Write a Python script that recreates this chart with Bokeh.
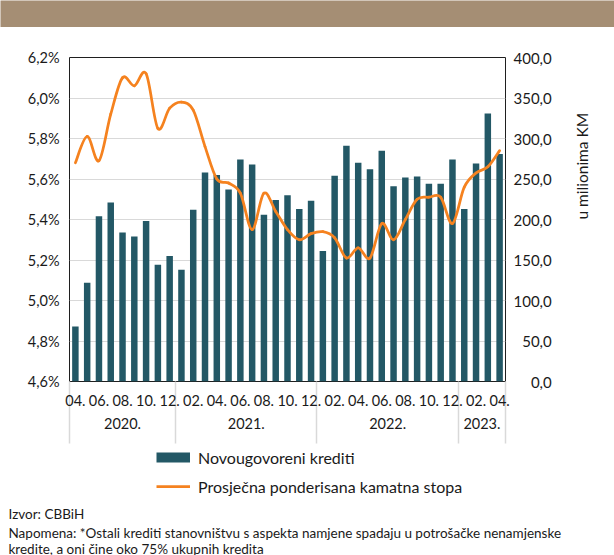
import math
from bokeh.plotting import figure
from bokeh.models import (Range1d, LinearAxis, FixedTicker, Legend, LegendItem, Label)
from bokeh.embed import file_html
from bokeh.resources import INLINE

# ---------------- data ----------------
month_labels = ["04.", "05.", "06.", "07.", "08.", "09.", "10.", "11.", "12.",
                "01.", "02.", "03.", "04.", "05.", "06.", "07.", "08.", "09.", "10.", "11.", "12.",
                "01.", "02.", "03.", "04.", "05.", "06.", "07.", "08.", "09.", "10.", "11.", "12.",
                "01.", "02.", "03.", "04."]
year_labels = ["2020.", "2021.", "2022.", "2023."]
year_counts = [9, 12, 12, 4]

credits = [68, 122, 204, 221, 184, 179, 198, 144, 155, 138, 212, 258,
           255, 237, 274, 268, 206, 224, 230, 213, 223, 161, 254, 291,
           270, 262, 285, 241, 252, 253, 244, 244, 274, 213, 269, 331, 281]
rate = [5.68, 5.81, 5.69, 5.92, 6.10, 6.06, 6.12, 5.85, 5.95, 5.98, 5.94, 5.76,
        5.60, 5.58, 5.53, 5.35, 5.53, 5.44, 5.35, 5.30, 5.33, 5.34, 5.31, 5.21,
        5.26, 5.21, 5.38, 5.30, 5.40, 5.50, 5.51, 5.51, 5.38, 5.56, 5.63, 5.66, 5.74]

left_ticks = [4.6, 4.8, 5.0, 5.2, 5.4, 5.6, 5.8, 6.0, 6.2]
left_labels = ["4,6%", "4,8%", "5,0%", "5,2%", "5,4%", "5,6%", "5,8%", "6,0%", "6,2%"]
right_ticks = [0, 50, 100, 150, 200, 250, 300, 350, 400]
right_labels = ["0,0", "50,0", "100,0", "150,0", "200,0", "250,0", "300,0", "350,0", "400,0"]

bar_name = "Novougovoreni krediti"
line_name = "Prosječna ponderisana kamatna stopa"
right_title = "u milionima KM"
footer = ["Izvor: CBBiH",
          "Napomena: *Ostali krediti stanovništvu s aspekta namjene spadaju u potrošačke nenamjenske",
          "kredite, a oni čine oko 75% ukupnih kredita"]

# ---------------- style ----------------
FONT = "Lato"
TXT = "#1a1a1a"
TEAL = "#235866"
ORANGE = "#F5821F"
GRID = "#d9d9d9"
BAND = "#A58E74"
W = 614

n = len(credits)
xs = list(range(1, n + 1))

# ---------------- header band ----------------
band = figure(width=W, height=27, toolbar_location=None, output_backend="svg",
              x_axis_location=None, y_axis_location=None, min_border=0,
              x_range=(0, 1), y_range=(0, 1))
band.background_fill_color = BAND
band.border_fill_color = BAND
band.outline_line_color = None
band.grid.visible = False

# ---------------- main figure ----------------
p = figure(width=W, height=418, toolbar_location=None, output_backend="svg",
           min_border_left=69, min_border_right=109, min_border_top=30, min_border_bottom=64,
           x_range=Range1d(0.5, n + 0.5), y_range=Range1d(left_ticks[0], left_ticks[-1]))
p.extra_y_ranges = {"bars": Range1d(right_ticks[0], right_ticks[-1])}
p.background_fill_color = "white"
p.border_fill_color = "white"
p.outline_line_color = "#1f1f1f"
p.outline_line_width = 1

p.xgrid.visible = False
p.ygrid.ticker = FixedTicker(ticks=left_ticks)
p.ygrid.grid_line_color = GRID
p.ygrid.grid_line_width = 1

bars = p.vbar(x=xs, top=credits, bottom=0, width=0.55, y_range_name="bars",
              fill_color=TEAL, line_color=None)

# smoothed line through the rate points (bezier segments)
x0, y0, x1, y1, cx0, cy0, cx1, cy1 = [], [], [], [], [], [], [], []
for i in range(n - 1):
    a = max(i - 1, 0)
    b = min(i + 2, n - 1)
    x0.append(xs[i]); y0.append(rate[i])
    x1.append(xs[i + 1]); y1.append(rate[i + 1])
    cx0.append(xs[i] + (xs[i + 1] - xs[a]) / 6.0)
    cy0.append(rate[i] + (rate[i + 1] - rate[a]) / 6.0)
    cx1.append(xs[i + 1] - (xs[b] - xs[i]) / 6.0)
    cy1.append(rate[i + 1] - (rate[b] - rate[i]) / 6.0)
curve = p.bezier(x0=x0, y0=y0, x1=x1, y1=y1, cx0=cx0, cy0=cy0, cx1=cx1, cy1=cy1,
                 line_color=ORANGE, line_width=2.75, line_cap="round")

# left axis
la = p.yaxis[0]
la.ticker = FixedTicker(ticks=left_ticks)
la.major_label_overrides = dict(zip(left_ticks, left_labels))
la.major_tick_line_color = None
la.minor_tick_line_color = None
la.major_tick_out = 0
la.major_tick_in = 0
la.axis_line_color = None
la.major_label_standoff = 10
la.major_label_text_font = FONT
la.major_label_text_font_size = "14.5px"
la.major_label_text_color = TXT

# right axis (labels padded with figure spaces so they line up on the right)
width_r = max(len(s) for s in right_labels)
right_shown = [s.rjust(width_r, "\u2007") for s in right_labels]
ra = LinearAxis(y_range_name="bars", ticker=FixedTicker(ticks=right_ticks),
                major_label_overrides=dict(zip(right_ticks, right_shown)),
                axis_line_color=None, major_tick_line_color=None, minor_tick_line_color=None,
                major_tick_out=0, major_tick_in=0, major_label_standoff=8,
                major_label_text_font=FONT, major_label_text_font_size="15px",
                major_label_text_color=TXT,
                axis_label=right_title, axis_label_standoff=27,
                axis_label_text_font=FONT, axis_label_text_font_size="15.5px",
                axis_label_text_font_style="normal", axis_label_text_color=TXT,
                axis_label_text_align="center")
if "axis_label_orientation" in LinearAxis.properties():
    ra.axis_label_orientation = math.pi / 2
p.add_layout(ra, "right")

# month axis (group separators drawn as minor ticks)
month_ticks = [x for x, m in zip(xs, month_labels) if int(m[:2]) % 2 == 0]
bounds = [0.5]
for c in year_counts:
    bounds.append(bounds[-1] + c)
xa = p.xaxis[0]
xa.ticker = FixedTicker(ticks=month_ticks, minor_ticks=bounds)
xa.major_label_overrides = {t: month_labels[t - 1] for t in month_ticks}
xa.major_tick_line_color = None
xa.major_tick_out = 0
xa.major_tick_in = 0
xa.minor_tick_line_color = GRID
xa.minor_tick_line_width = 1.5
xa.minor_tick_out = 62
xa.minor_tick_in = 0
xa.axis_line_color = None
xa.major_label_standoff = -49
xa.major_label_text_font = FONT
xa.major_label_text_font_size = "14.5px"
xa.major_label_text_color = TXT

# year axis
year_ticks = [(bounds[k] + bounds[k + 1]) / 2.0 for k in range(len(year_counts))]
ya = LinearAxis(ticker=FixedTicker(ticks=year_ticks),
                major_label_overrides=dict(zip(year_ticks, year_labels)),
                axis_line_color=None, major_tick_line_color=None, minor_tick_line_color=None,
                major_tick_out=0, major_tick_in=0, major_label_standoff=9,
                major_label_text_font=FONT, major_label_text_font_size="14.5px",
                major_label_text_color=TXT)
p.add_layout(ya, "below")

# ---------------- legend + notes panel ----------------
BH = 110
q = figure(width=W, height=BH, toolbar_location=None, output_backend="svg",
           x_axis_location=None, y_axis_location=None, min_border=0,
           x_range=Range1d(0, W), y_range=Range1d(BH, 0))
q.background_fill_color = "white"
q.border_fill_color = "white"
q.outline_line_color = None
q.grid.visible = False

# key renderers (no visible points; they only provide the legend swatches)
nan = float("nan")
bar_key = q.line(x=[nan], y=[nan], line_color=TEAL, line_width=10, line_cap="butt")
line_key = q.line(x=[nan], y=[nan], line_color=ORANGE, line_width=2.75)

legend = Legend(items=[LegendItem(label=bar_name, renderers=[bar_key]),
                       LegendItem(label=line_name, renderers=[line_key])],
                location=(156, 59), orientation="vertical",
                glyph_width=34, glyph_height=20, label_height=20, label_standoff=8,
                spacing=9, padding=0, margin=0,
                border_line_color=None, background_fill_alpha=0,
                label_text_font=FONT, label_text_font_size="16px", label_text_color=TXT)
q.add_layout(legend)

for t, yy in zip(footer, [68, 87, 103]):
    q.add_layout(Label(x=8, y=yy, text=t, text_align="left", text_baseline="middle",
                       text_font=FONT, text_font_size="13.5px", text_color=TXT))

open("out.html", "w").write(file_html([band, p, q], INLINE))
